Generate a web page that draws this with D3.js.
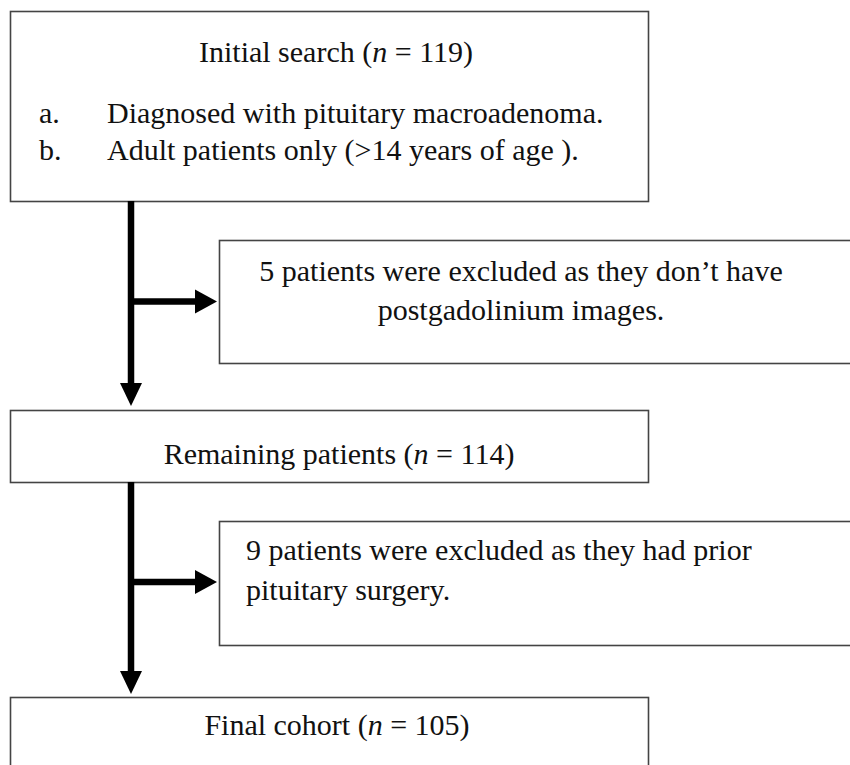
<!DOCTYPE html>
<html>
<head>
<meta charset="utf-8">
<script src="https://cdn.jsdelivr.net/npm/d3@7"></script>
<style>
  body { margin: 0; background: #fff; }
  svg text { font-family: "Liberation Serif", "Times New Roman", serif; fill: #111; }
</style>
</head>
<body>
<div id="wrapper"></div>
<script>
// flowchart content
const boxNames = ["initial", "excl1", "remaining", "excl2", "final"];
const boxX = [10, 219, 10, 219, 10];
const boxY = [11, 240, 410, 521, 697];
const boxW = [638, 660, 638, 660, 638];
const boxH = [190, 123, 72, 124, 90];

const titleTexts = ["Initial search (", "Remaining patients (", "Final cohort ("];
const titleCounts = ["119", "114", "105"];
const titleBox = [0, 2, 4];

const criteriaLetters = ["a.", "b."];
const criteriaTexts = ["Diagnosed with pituitary macroadenoma.", "Adult patients only (>14 years of age )."];

const excl1Lines = ["5 patients were excluded as they don\u2019t have", "postgadolinium images."];
const excl2Lines = ["9 patients were excluded as they had prior", "pituitary surgery."];

function drawChart() {
  const width = 850, height = 765;
  const fs = 30;
  const svg = d3.select("#wrapper").append("svg")
    .attr("width", width)
    .attr("height", height);

  // boxes
  svg.selectAll("rect.box")
    .data(boxNames)
    .enter()
    .append("rect")
    .attr("class", "box")
    .attr("x", (d, i) => boxX[i] + 0.5)
    .attr("y", (d, i) => boxY[i] + 0.5)
    .attr("width", (d, i) => boxW[i])
    .attr("height", (d, i) => boxH[i])
    .attr("fill", "#fff")
    .attr("stroke", "#444")
    .attr("stroke-width", 1.6);

  // titles with italic n
  const titleY = [62, 464, 735];
  const titleCx = [336, 339, 337];
  titleBox.forEach(function (b, i) {
    const t = svg.append("text")
      .attr("x", titleCx[i])
      .attr("y", titleY[i])
      .attr("text-anchor", "middle")
      .attr("font-size", fs);
    t.append("tspan").text(titleTexts[i]);
    t.append("tspan").attr("font-style", "italic").text("n");
    t.append("tspan").text(" = " + titleCounts[i] + ")");
  });

  // criteria list
  const critY = [123, 160];
  svg.selectAll("text.letter")
    .data(criteriaLetters)
    .enter()
    .append("text")
    .attr("class", "letter")
    .attr("x", 39)
    .attr("y", (d, i) => critY[i])
    .attr("font-size", fs)
    .text(d => d);
  svg.selectAll("text.crit")
    .data(criteriaTexts)
    .enter()
    .append("text")
    .attr("class", "crit")
    .attr("x", 107)
    .attr("y", (d, i) => critY[i])
    .attr("font-size", fs)
    .text(d => d);

  // exclusion box 1, centred lines
  svg.selectAll("text.ex1")
    .data(excl1Lines)
    .enter()
    .append("text")
    .attr("class", "ex1")
    .attr("x", 521)
    .attr("y", (d, i) => 281 + i * 39)
    .attr("text-anchor", "middle")
    .attr("font-size", fs)
    .text(d => d);

  // exclusion box 2, left-aligned lines
  svg.selectAll("text.ex2")
    .data(excl2Lines)
    .enter()
    .append("text")
    .attr("class", "ex2")
    .attr("x", 246)
    .attr("y", (d, i) => 560 + i * 40)
    .attr("text-anchor", "start")
    .attr("font-size", fs)
    .text(d => d);

  // arrows
  const lineX = 131;
  const lw = 6.5;
  const vSegs = [[201, 384], [482, 672]];
  svg.selectAll("line.v")
    .data(vSegs)
    .enter()
    .append("line")
    .attr("class", "v")
    .attr("x1", lineX).attr("x2", lineX)
    .attr("y1", d => d[0]).attr("y2", d => d[1])
    .attr("stroke", "#000").attr("stroke-width", lw);

  // down arrowheads
  const downTips = [406, 694];
  svg.selectAll("path.down")
    .data(downTips)
    .enter()
    .append("path")
    .attr("class", "down")
    .attr("d", d => "M" + (lineX - 11) + "," + (d - 23) + "L" + (lineX + 11) + "," + (d - 23) + "L" + lineX + "," + d + "Z")
    .attr("fill", "#000");

  // side arrows
  const sideY = [301.5, 582];
  svg.selectAll("line.h")
    .data(sideY)
    .enter()
    .append("line")
    .attr("class", "h")
    .attr("x1", lineX).attr("x2", 196)
    .attr("y1", d => d).attr("y2", d => d)
    .attr("stroke", "#000").attr("stroke-width", lw);
  svg.selectAll("path.right")
    .data(sideY)
    .enter()
    .append("path")
    .attr("class", "right")
    .attr("d", d => "M195," + (d - 12) + "L217," + d + "L195," + (d + 12) + "Z")
    .attr("fill", "#000");
}
drawChart();
</script>
</body>
</html>
